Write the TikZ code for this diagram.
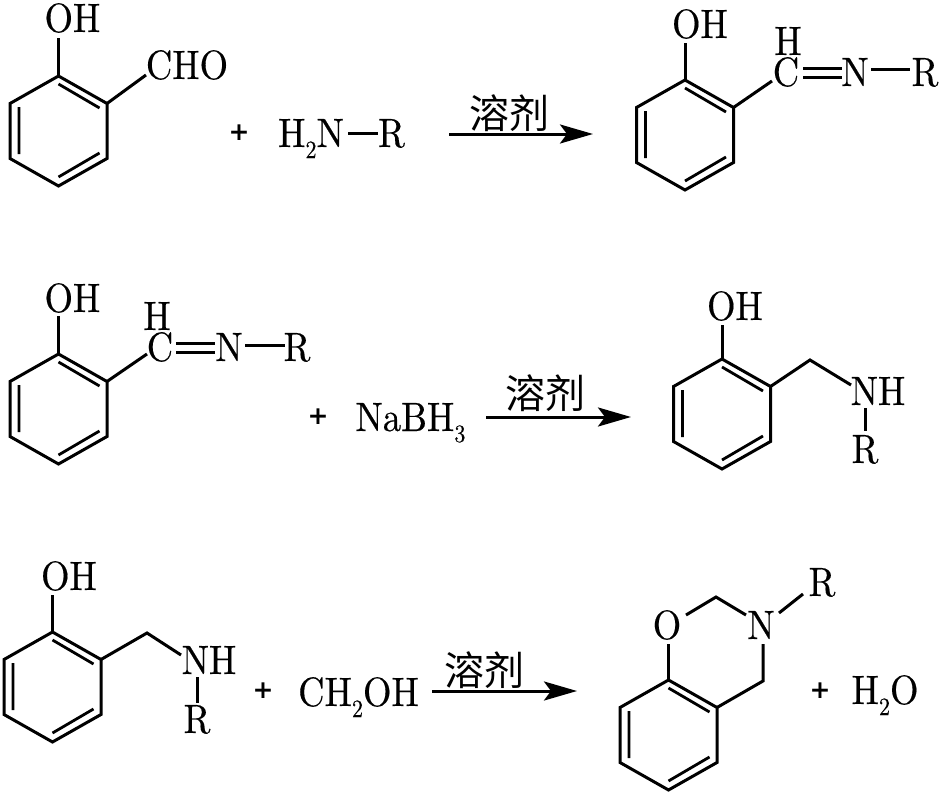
\documentclass[tikz,border=0pt]{standalone}
\usepackage{fontspec}
\usetikzlibrary{arrows.meta}
\setmainfont{lmroman10-regular}[Extension=.otf,FakeBold=0.4]
\newfontfamily\cjk{Noto Sans CJK SC}
\newfontfamily\plusf{DejaVu Sans}
\newcommand\subn[1]{\raisebox{-0.27em}{\fontsize{25}{25}\selectfont #1}}
\tikzset{
  bond/.style={line width=3pt,line join=miter,line cap=butt},
  innerbond/.style={line width=2.8pt},
  lbl/.style={inner sep=0pt,anchor=base,yshift=-14pt,font=\fontsize{41}{41}\selectfont},
  plussign/.style={inner sep=0pt,anchor=center,font=\plusf\bfseries\fontsize{25}{25}\selectfont},
  solv/.style={inner sep=0pt,anchor=center,font=\cjk\fontsize{40}{40}\selectfont},
  rxn/.style={line width=3pt,-{Stealth[length=33pt,width=19pt,inset=7pt]}}
}
\newcommand\lab[4]{\node[lbl] (#1) at (#2,#3) {\scalebox{.89}[1]{#4}};}
% benzene ring with named vertices
\newcommand\ring[3]{%
  \coordinate (#1t) at (#2,#3-55);
  \coordinate (#1ur) at (#2+48.5,#3-27.5);
  \coordinate (#1lr) at (#2+48.5,#3+27.5);
  \coordinate (#1b) at (#2,#3+55);
  \coordinate (#1ll) at (#2-48.5,#3+27.5);
  \coordinate (#1ul) at (#2-48.5,#3-27.5);
  \coordinate (#1ia) at (#2,#3-47);
  \coordinate (#1ib) at (#2+41,#3-23);
  \coordinate (#1ic) at (#2+41,#3+22);
  \coordinate (#1id) at (#2,#3+46);
  \coordinate (#1ie) at (#2-39.5,#3+23);
  \coordinate (#1if) at (#2-39.5,#3-24);
  \draw[bond] (#1t) -- (#1ur) -- (#1lr) -- (#1b) -- (#1ll) -- (#1ul) -- cycle;
  \draw[innerbond] (#1ia) -- (#1ib) (#1ic) -- (#1id) (#1ie) -- (#1if);
}
\begin{document}
\begin{tikzpicture}[x=1pt,y=-1pt]
\useasboundingbox (0,0) rectangle (945,800);

%% Row 1 left
\ring{a}{58.5}{131}
\lab{aoh}{72.5}{18}{OH}
\coordinate (aohe) at (58.5,38);
\draw[bond] (at) -- (aohe);
\lab{acho}{187}{65}{CHO}
\coordinate (achoe) at (146,75);
\draw[bond] (aur) -- (achoe);
\node[plussign] (p1) at (239,133) {+};
\lab{bn}{311}{133}{H\subn{2}N}
\lab{br}{391.5}{133}{R}
\coordinate (bns) at (348,133);
\coordinate (brs) at (378,133);
\draw[bond] (bns) -- (brs);
%% Row 1 arrow
\node[solv] (s1) at (509,113) {溶剂};
\coordinate (s1a) at (449,134);
\coordinate (s1b) at (593,134);
\draw[rxn] (s1a) -- (s1b);
%% Row 1 right
\ring{c}{685}{135}
\lab{coh}{700}{24}{OH}
\coordinate (cohe) at (685,43);
\draw[bond] (ct) -- (cohe);
\lab{ch}{788}{41}{H}
\lab{cc}{786}{72}{C}
\lab{cn}{855}{72}{N}
\lab{cr}{925}{72}{R}
\coordinate (cce) at (772,81);
\draw[bond] (cur) -- (cce);
\coordinate (cd1) at (803,69); \coordinate (cd2) at (842,69);
\coordinate (cd3) at (803,78); \coordinate (cd4) at (842,78);
\draw[bond] (cd1) -- (cd2) (cd3) -- (cd4);
\coordinate (cns) at (871,70); \coordinate (crs) at (910,70);
\draw[bond] (cns) -- (crs);

%% Row 2 left
\ring{d}{58.5}{409}
\lab{doh}{72.5}{298}{OH}
\coordinate (dohe) at (58.5,316);
\draw[bond] (dt) -- (dohe);
\lab{dh}{157}{316}{H}
\lab{dc}{160}{347}{C}
\lab{dn}{229}{347}{N}
\lab{dr}{297}{347}{R}
\coordinate (dce) at (147,354);
\draw[bond] (dur) -- (dce);
\coordinate (dd1) at (176,343); \coordinate (dd2) at (215,343);
\coordinate (dd3) at (176,352); \coordinate (dd4) at (215,352);
\draw[bond] (dd1) -- (dd2) (dd3) -- (dd4);
\coordinate (dns) at (245,345); \coordinate (drs) at (285,345);
\draw[bond] (dns) -- (drs);
\node[plussign] (p2) at (318,417) {+};
\lab{nab}{410.5}{417}{NaBH\subn{3}}
%% Row 2 arrow
\node[solv] (s2) at (545,393) {溶剂};
\coordinate (s2a) at (486,417);
\coordinate (s2b) at (631,417);
\draw[rxn] (s2a) -- (s2b);
%% Row 2 right
\ring{e}{722}{414}
\lab{eoh}{735}{306}{OH}
\coordinate (eohe) at (722,325);
\draw[bond] (et) -- (eohe);
\lab{enh}{878}{391}{NH}
\lab{er}{865}{449}{R}
\coordinate (ech) at (810,360);
\coordinate (ene) at (851,385);
\draw[bond] (eur) -- (ech) -- (ene);
\coordinate (ens) at (865,408); \coordinate (ers) at (865,431);
\draw[bond] (ens) -- (ers);

%% Row 3 left
\ring{f}{52.5}{687}
\lab{foh}{69}{576}{OH}
\coordinate (fohe) at (52.5,595);
\draw[bond] (ft) -- (fohe);
\lab{fnh}{209}{660}{NH}
\lab{fr}{197}{719}{R}
\coordinate (fch) at (147,633);
\coordinate (fne) at (181,655);
\draw[bond] (fur) -- (fch) -- (fne);
\coordinate (fns) at (197,677); \coordinate (frs) at (197,703);
\draw[bond] (fns) -- (frs);
\node[plussign] (p3) at (263,691) {+};
\lab{meth}{358.5}{692}{CH\subn{2}OH}
%% Row 3 arrow
\node[solv] (s3) at (484,670) {溶剂};
\coordinate (s3a) at (432,691);
\coordinate (s3b) at (577,691);
\draw[rxn] (s3a) -- (s3b);
%% Row 3 right
\ring{g}{668.5}{735}
\lab{go}{667}{625}{O}
\lab{gn}{761}{625}{N}
\lab{gr}{822}{582}{R}
\coordinate (goe) at (668.5,644);
\draw[bond] (gt) -- (goe);
\coordinate (gos) at (686,615); \coordinate (gme) at (716,597); \coordinate (gna) at (746,615);
\draw[bond] (gos) -- (gme) -- (gna);
\coordinate (gnb) at (779,613); \coordinate (grs) at (803,594);
\draw[bond] (gnb) -- (grs);
\coordinate (gnc) at (763,644); \coordinate (gch) at (763,681);
\draw[bond] (gnc) -- (gch) -- (gur);
\node[plussign] (p4) at (820,691) {+};
\lab{wat}{885}{690}{H\subn{2}O}
\end{tikzpicture}
\end{document}
